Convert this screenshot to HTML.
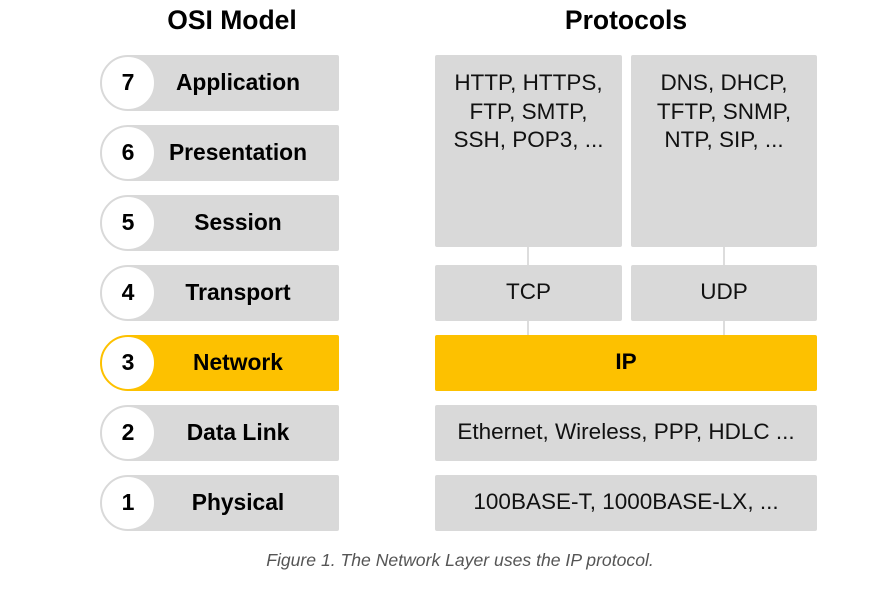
<!DOCTYPE html>
<html><head><style>
body{margin:0;width:880px;height:598px;background:#fff;position:relative;font-family:"Liberation Sans",sans-serif;overflow:hidden}
div{position:absolute;box-sizing:border-box}
.h{font-weight:bold;font-size:26.5px;top:5px;text-align:center;width:240px}
.bar{left:126px;width:213px;height:56px;background:#d9d9d9;border-radius:2px}
.lbl{left:137px;width:202px;height:56px;line-height:54px;text-align:center;font-weight:bold;font-size:22.8px;color:#000}
.c{left:100px;width:56px;height:56px;border-radius:50%;background:#fff;border:2px solid #d9d9d9;text-align:center;line-height:51px;font-weight:bold;font-size:23px}
.y{background:#fdc100!important;border-color:#fdc100}
.b{background:#d9d9d9;border-radius:2px;text-align:center;font-size:22.5px;color:#111}
.v{width:2px;background:#ddd}
</style></head><body>
<div class="h" style="left:112px">OSI Model</div>
<div class="h" style="left:506px">Protocols</div>

<div class="bar" style="top:55px"></div><div class="c" style="top:55px">7</div><div class="lbl" style="top:55px">Application</div>
<div class="bar" style="top:125px"></div><div class="c" style="top:125px">6</div><div class="lbl" style="top:125px">Presentation</div>
<div class="bar" style="top:195px"></div><div class="c" style="top:195px">5</div><div class="lbl" style="top:195px">Session</div>
<div class="bar" style="top:265px"></div><div class="c" style="top:265px">4</div><div class="lbl" style="top:265px">Transport</div>
<div class="bar y" style="top:335px"></div><div class="c" style="top:335px;border-color:#fdc100">3</div><div class="lbl" style="top:335px">Network</div>
<div class="bar" style="top:405px"></div><div class="c" style="top:405px">2</div><div class="lbl" style="top:405px">Data Link</div>
<div class="bar" style="top:475px"></div><div class="c" style="top:475px">1</div><div class="lbl" style="top:475px">Physical</div>

<div class="v" style="left:527px;top:247px;height:90px"></div>
<div class="v" style="left:723px;top:247px;height:90px"></div>
<div class="b" style="left:435px;top:55px;width:187px;height:192px;padding-top:14px;line-height:28.5px">HTTP, HTTPS,<br>FTP, SMTP,<br>SSH, POP3, ...</div>
<div class="b" style="left:631px;top:55px;width:186px;height:192px;padding-top:14px;line-height:28.5px">DNS, DHCP,<br>TFTP, SNMP,<br>NTP, SIP, ...</div>
<div class="b" style="left:435px;top:265px;width:187px;height:56px;line-height:54px">TCP</div>
<div class="b" style="left:631px;top:265px;width:186px;height:56px;line-height:54px">UDP</div>
<div class="b y" style="left:435px;top:335px;width:382px;height:56px;line-height:54px;font-weight:bold;color:#000">IP</div>
<div class="b" style="left:435px;top:405px;width:382px;height:56px;line-height:54px">Ethernet, Wireless, PPP, HDLC ...</div>
<div class="b" style="left:435px;top:475px;width:382px;height:56px;line-height:54px">100BASE-T, 1000BASE-LX, ...</div>

<div style="left:160px;width:600px;top:550px;text-align:center;font-style:italic;font-size:17.6px;color:#555">Figure 1. The Network Layer uses the IP protocol.</div>
</body></html>
